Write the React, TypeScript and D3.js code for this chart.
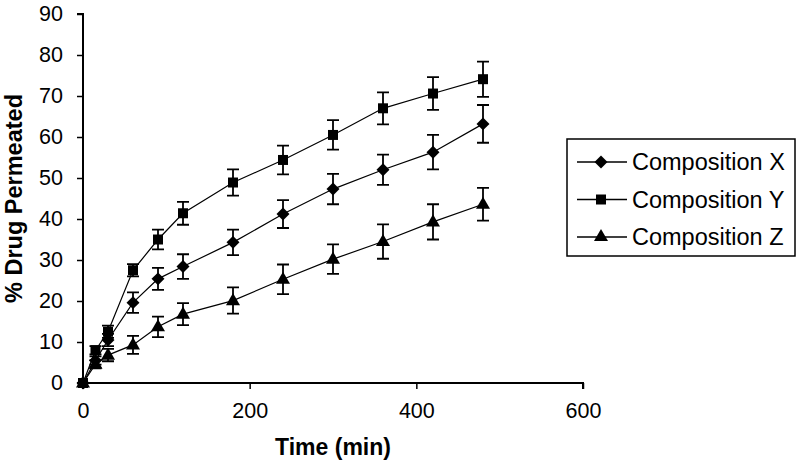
import React, { useEffect, useRef } from "react";
import * as d3 from "d3";

const times = [0, 15, 30, 60, 90, 120, 180, 240, 300, 360, 420, 480];
const seriesNames = ["Composition X", "Composition Y", "Composition Z"];
const valuesX = [0, 5.5, 10.5, 19.6, 25.4, 28.4, 34.3, 41.2, 47.3, 52, 56.3, 63.2];
const valuesY = [0, 8, 12.5, 27.5, 35, 41.4, 48.9, 54.4, 60.5, 67, 70.6, 74.1];
const valuesZ = [0, 4.6, 6.8, 9.3, 13.7, 16.8, 20.1, 25.3, 30.2, 34.5, 39.3, 43.6];
const errX = [0, 1, 1.5, 2.5, 2.7, 3, 3.1, 3.4, 3.7, 3.7, 4.2, 4.6];
const errY = [0, 1, 1.5, 1.5, 2.4, 2.8, 3.2, 3.5, 3.6, 3.9, 4, 4.3];
const errZ = [0, 1, 1.5, 2.2, 2.5, 2.7, 3.2, 3.6, 3.6, 4.2, 4.3, 4];
const xTicks = [0, 200, 400, 600];
const yTicks = [0, 10, 20, 30, 40, 50, 60, 70, 80, 90];
const xTitle = "Time (min)";
const yTitle = "% Drug Permeated";

const W = 799;
const H = 472;

const squareDiamond: d3.SymbolType = {
  draw(context: any, size: number) {
    const r = Math.sqrt(size / 2);
    context.moveTo(0, -r);
    context.lineTo(r, 0);
    context.lineTo(0, r);
    context.lineTo(-r, 0);
    context.closePath();
  },
};

export default function App() {
  const ref = useRef<SVGSVGElement | null>(null);

  useEffect(() => {
    const svg = d3.select(ref.current);
    svg.selectAll("*").remove();
    const font = "Liberation Sans, Arial, sans-serif";

    const x = d3.scaleLinear().domain([0, 600]).range([83, 583]);
    const y = d3.scaleLinear().domain([0, 90]).range([383, 14]);

    // axes
    const yAxis = d3.axisLeft(y).tickValues(yTicks).tickSize(6).tickPadding(14);
    const gy = svg.append("g").attr("transform", `translate(${x(0)},0)`).call(yAxis);
    const xAxis = d3.axisBottom(x).tickValues(xTicks).tickSize(6).tickPadding(14);
    const gx = svg.append("g").attr("transform", `translate(0,${y(0)})`).call(xAxis);
    [gx, gy].forEach((g) => {
      g.select(".domain").attr("stroke", "#000").attr("stroke-width", 2);
      g.selectAll(".tick line").attr("stroke", "#000").attr("stroke-width", 1.5);
      g.selectAll(".tick text")
        .attr("fill", "#000")
        .style("font-family", font)
        .style("font-size", "21.5px");
    });
    gx.select(".domain").attr("d", `M${x(0)},6V0H${x(600)}V6`);
    gy.select(".domain").attr("d", `M-6,${y(90)}H0V${y(0)}H-6`);

    // titles
    svg
      .append("text")
      .attr("x", (x(0) + x(600)) / 2)
      .attr("y", 455)
      .attr("text-anchor", "middle")
      .style("font-family", font)
      .style("font-weight", "bold")
      .style("font-size", "23px")
      .text(xTitle);
    svg
      .append("text")
      .attr("transform", `translate(22,${(y(0) + y(90)) / 2}) rotate(-90)`)
      .attr("text-anchor", "middle")
      .style("font-family", font)
      .style("font-weight", "bold")
      .style("font-size", "23.5px")
      .text(yTitle);

    const symbols = [squareDiamond, d3.symbolSquare, d3.symbolTriangle];
    const sizes = [84, 100, 85];
    const data = [
      { vals: valuesX, errs: errX },
      { vals: valuesY, errs: errY },
      { vals: valuesZ, errs: errZ },
    ];

    const line = d3
      .line<number>()
      .x((_, i) => x(times[i]))
      .y((v) => y(v));

    data.forEach((s) => {
      svg
        .append("path")
        .attr("d", line(s.vals) as string)
        .attr("fill", "none")
        .attr("stroke", "#000")
        .attr("stroke-width", 1.2);
    });

    data.forEach((s) => {
      const g = svg.append("g");
      s.vals.forEach((v, i) => {
        const e = s.errs[i];
        if (e <= 0) return;
        const cx = x(times[i]);
        const cap = 6;
        g.append("path")
          .attr(
            "d",
            `M${cx},${y(v + e)}V${y(v - e)}M${cx - cap},${y(v + e)}H${cx + cap}M${cx - cap},${y(v - e)}H${cx + cap}`
          )
          .attr("fill", "none")
          .attr("stroke", "#000")
          .attr("stroke-width", 1.8);
      });
    });

    data.forEach((s, k) => {
      const sym = d3.symbol().type(symbols[k]).size(sizes[k]);
      svg
        .append("g")
        .selectAll("path")
        .data(s.vals)
        .join("path")
        .attr("transform", (v, i) => `translate(${x(times[i])},${y(v) + (k === 2 ? 0.5 : 0)})`)
        .attr("d", sym() as string)
        .attr("fill", "#000");
    });

    // legend
    const lg = svg.append("g");
    lg.append("rect")
      .attr("x", 567)
      .attr("y", 139)
      .attr("width", 228)
      .attr("height", 117)
      .attr("fill", "#fff")
      .attr("stroke", "#000")
      .attr("stroke-width", 1.5);
    const rowY = [162, 199.5, 237];
    seriesNames.forEach((name, k) => {
      const ry = rowY[k];
      lg.append("line")
        .attr("x1", 577)
        .attr("x2", 627)
        .attr("y1", ry)
        .attr("y2", ry)
        .attr("stroke", "#000")
        .attr("stroke-width", 1.5);
      lg.append("path")
        .attr("transform", `translate(601,${ry})`)
        .attr("d", d3.symbol().type(symbols[k]).size(sizes[k])() as string)
        .attr("fill", "#000");
      lg.append("text")
        .attr("x", 632)
        .attr("y", ry)
        .attr("dy", "0.35em")
        .style("font-family", font)
        .style("font-size", "23.5px")
        .attr("fill", "#000")
        .text(name);
    });
  }, []);

  return (
    <svg
      ref={ref}
      width={W}
      height={H}
      style={{ position: "absolute", left: 0, top: 0, background: "#fff" }}
    />
  );
}
